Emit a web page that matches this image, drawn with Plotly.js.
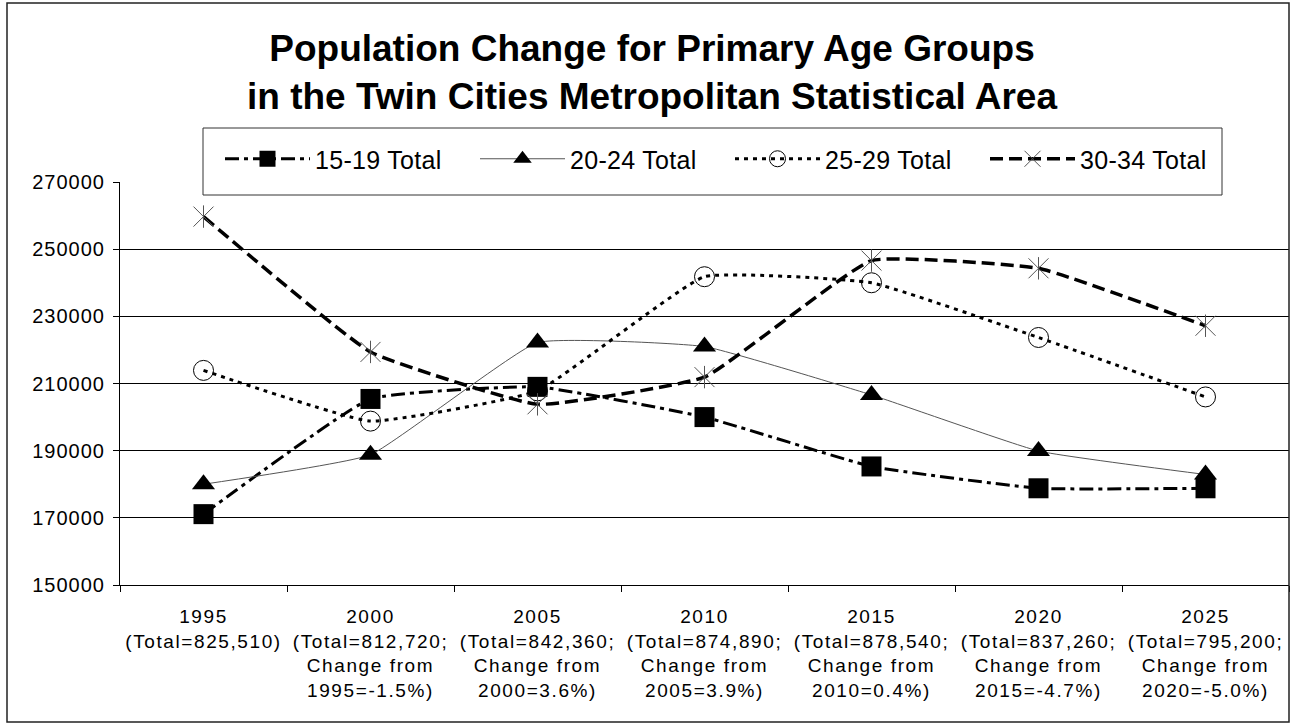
<!DOCTYPE html>
<html>
<head>
<meta charset="utf-8">
<script src="https://cdn.plot.ly/plotly-3.0.1.min.js"></script>
<style>
  html, body { margin: 0; padding: 0; background: #fff; }
  #chart { width: 1311px; height: 725px; }
  .xtick text { letter-spacing: 1.6px; }
  .ytick text { letter-spacing: 1px; }
  .legendtext { letter-spacing: 0.3px; }
</style>
</head>
<body>
<div id="chart"></div>
<script>
// ---- data ----
const years = ['1995', '2000', '2005', '2010', '2015', '2020', '2025'];
const totals = [825510, 812720, 842360, 874890, 878540, 837260, 795200];
const changePct = [null, -1.5, 3.6, 3.9, 0.4, -4.7, -5.0];
const seriesNames = ['15-19 Total', '20-24 Total', '25-29 Total', '30-34 Total'];
const age15_19 = [171100, 205400, 209000, 200000, 185300, 178800, 178800];
const age20_24 = [180000, 188800, 222200, 221000, 206600, 189900, 182900];
const age25_29 = [213900, 198800, 207800, 241800, 240000, 223700, 206000];
const age30_34 = [259700, 219400, 203800, 211900, 246600, 244300, 227200];
const yTickVals = [150000, 170000, 190000, 210000, 230000, 250000, 270000];

const tickText = years.map((y, i) => {
  let s = y + '<br>(Total=' + totals[i].toLocaleString('en-US');
  if (changePct[i] === null) return s + ')';
  return s + ';<br>Change from<br>' + years[i - 1] + '=' + changePct[i].toFixed(1) + '%)';
});

const F = 'Arial, "Liberation Sans", sans-serif';
const SM = 0.35;

const traces = [
  {
    x: years, y: age15_19, name: seriesNames[0], type: 'scatter', mode: 'lines+markers',
    line: { color: '#000', width: 3, dash: '14px,5px,4px,5px', shape: 'spline', smoothing: SM },
    marker: { symbol: 'square', size: 20, color: '#000' }
  },
  {
    x: years, y: age20_24, name: seriesNames[1], type: 'scatter', mode: 'lines+markers',
    line: { color: '#555', width: 1, shape: 'spline', smoothing: SM },
    marker: { symbol: 'triangle-up', size: 20, color: '#000' }
  },
  {
    x: years, y: age25_29, name: seriesNames[2], type: 'scatter', mode: 'lines+markers',
    line: { color: '#000', width: 3, dash: '4px,5px', shape: 'spline', smoothing: SM },
    marker: { symbol: 'circle-open', size: 20, color: '#000', line: { width: 1, color: '#000' } }
  },
  {
    x: years, y: age30_34, name: seriesNames[3], type: 'scatter', mode: 'lines+markers',
    line: { color: '#000', width: 3.5, dash: '13px,6px', shape: 'spline', smoothing: SM },
    marker: { symbol: 'x-thin-open', size: 20, color: '#555', line: { width: 1, color: '#555' } }
  },
  {
    x: years, y: age30_34, name: seriesNames[3], type: 'scatter', mode: 'markers',
    showlegend: false, hoverinfo: 'skip',
    marker: { symbol: 'line-ns-open', size: 16, color: '#555', line: { width: 1, color: '#555' } }
  }
];

const W = 1311, H = 725;
const L = 120, R = 22, T = 182, B = 140;
const pw = W - L - R, ph = H - T - B;
const px2x = p => (p - L) / pw;
const py2y = p => (H - B - p) / ph;

const layout = {
  width: W, height: H,
  margin: { l: L, r: R, t: T, b: B },
  paper_bgcolor: '#fff', plot_bgcolor: '#fff',
  showlegend: true,
  title: {
    text: 'Population Change for Primary Age Groups<br>in the Twin Cities Metropolitan Statistical Area',
    font: { family: F, size: 37, color: '#000', weight: 'bold' },
    x: 652 / W, xanchor: 'center', xref: 'container',
    y: 1 - 61 / H, yanchor: 'top', yref: 'container'
  },
  xaxis: {
    type: 'category', tickvals: years, ticktext: tickText,
    range: [-0.5, years.length - 0.5], autorange: false,
    tickson: 'boundaries', ticks: 'outside', ticklen: 6, tickcolor: '#000',
    showline: true, linecolor: '#000', linewidth: 1,
    showgrid: false, zeroline: false,
    tickfont: { family: F, size: 19, color: '#000' },
    ticklabelstandoff: 14,
    fixedrange: true
  },
  yaxis: {
    range: [150000, 270000], tickvals: yTickVals, tickformat: 'd',
    ticks: 'outside', ticklen: 6, tickcolor: '#000',
    showline: true, linecolor: '#000', linewidth: 1,
    showgrid: true, gridcolor: '#000', gridwidth: 1, zeroline: false,
    tickfont: { family: F, size: 20, color: '#000' },
    ticklabelstandoff: 4,
    fixedrange: true
  },
  legend: {
    orientation: 'h', x: px2x(220), xanchor: 'left', y: py2y(159), yanchor: 'middle',
    bgcolor: 'rgba(0,0,0,0)', borderwidth: 0,
    font: { family: F, size: 25, color: '#000' },
    itemwidth: 85, entrywidth: 155, entrywidthmode: 'pixels',
    traceorder: 'normal'
  },
  shapes: [
    { type: 'rect', xref: 'paper', yref: 'paper', layer: 'above',
      x0: px2x(203), x1: px2x(1222), y0: py2y(195), y1: py2y(128),
      fillcolor: '#fff', line: { color: '#333', width: 1 } },
    { type: 'rect', xref: 'paper', yref: 'paper', layer: 'above',
      x0: px2x(7), x1: px2x(1289), y0: py2y(722), y1: py2y(3),
      fillcolor: 'rgba(0,0,0,0)', line: { color: '#222', width: 1.5 } }
  ]
};

Plotly.newPlot('chart', traces, layout, { displayModeBar: false, staticPlot: true });
</script>
</body>
</html>
